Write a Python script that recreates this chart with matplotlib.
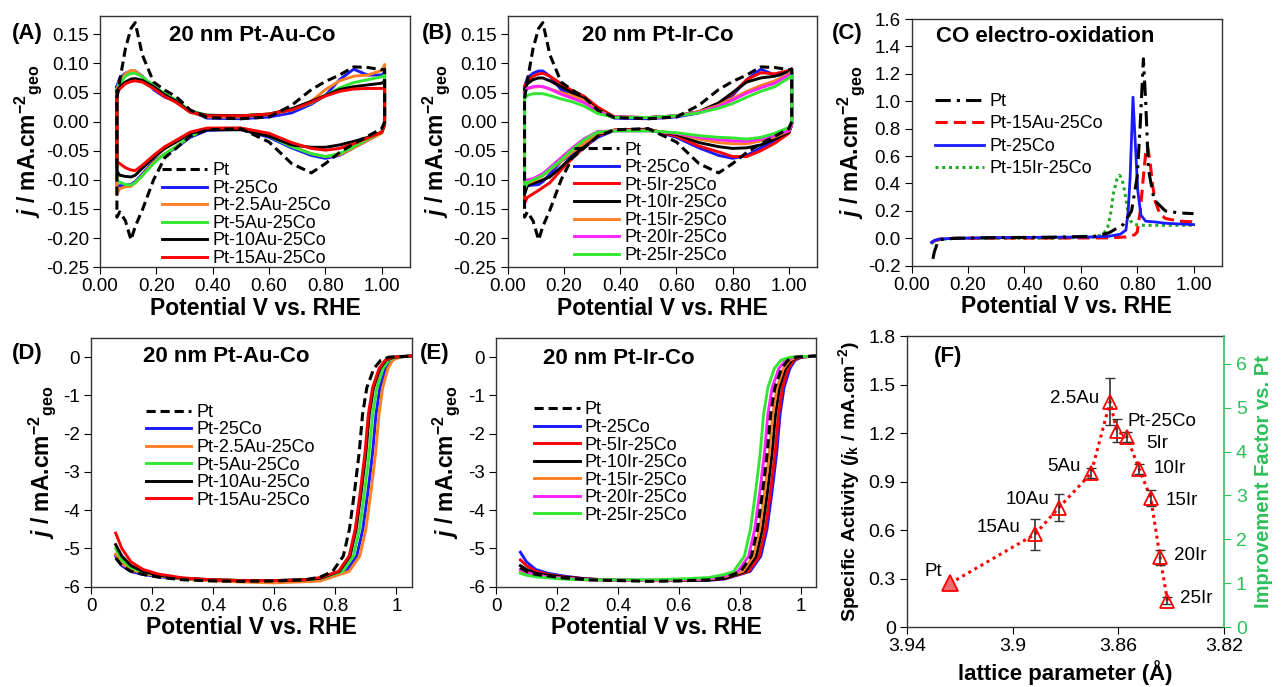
import matplotlib
matplotlib.use('Agg')
import matplotlib.pyplot as plt
from matplotlib.ticker import FormatStrFormatter, FuncFormatter, MultipleLocator

plt.rcParams['font.family'] = ['Liberation Sans', 'DejaVu Sans']
plt.rcParams['mathtext.fontset'] = 'custom'
plt.rcParams['mathtext.rm'] = 'Liberation Sans:bold'
plt.rcParams['mathtext.it'] = 'Liberation Sans:bold:italic'
plt.rcParams['mathtext.bf'] = 'Liberation Sans:bold'
plt.rcParams['axes.unicode_minus'] = False

# ---------------- CV data (A, B): potentials shared by all sweeps ----------------
cv_E = [0.06, 0.07, 0.09, 0.11, 0.125, 0.15, 0.19, 0.23, 0.27, 0.32, 0.38,
        0.5, 0.6, 0.68, 0.75, 0.8, 0.85, 0.9, 0.95, 1.0, 1.01]

cv_pt_up = [0.04, 0.07, 0.125, 0.16, 0.17, 0.115, 0.068, 0.054, 0.043, 0.02, 0.007,
            0.005, 0.008, 0.028, 0.055, 0.069, 0.08, 0.094, 0.093, 0.089, 0.09]
cv_pt_dn = [-0.164, -0.155, -0.17, -0.203, -0.18, -0.152, -0.1, -0.062, -0.046, -0.025, -0.014,
            -0.012, -0.035, -0.072, -0.088, -0.072, -0.053, -0.038, -0.025, -0.012, 0.0]
cv_co_up = [0.06, 0.075, 0.083, 0.087, 0.087, 0.078, 0.055, 0.042, 0.035, 0.018, 0.006,
            0.005, 0.008, 0.015, 0.03, 0.045, 0.072, 0.09, 0.08, 0.08, 0.085]
cv_co_dn = [-0.11, -0.11, -0.109, -0.108, -0.103, -0.09, -0.068, -0.056, -0.045, -0.027, -0.015,
            -0.013, -0.027, -0.045, -0.058, -0.063, -0.058, -0.045, -0.032, -0.018, -0.005]

# Pt-Au-Co series
cv_au25_up = [0.055, 0.07, 0.082, 0.088, 0.087, 0.077, 0.057, 0.045, 0.036, 0.016, 0.008,
              0.008, 0.012, 0.02, 0.035, 0.055, 0.07, 0.078, 0.08, 0.088, 0.098]
cv_au25_dn = [-0.125, -0.115, -0.112, -0.111, -0.105, -0.092, -0.07, -0.055, -0.043, -0.025, -0.012,
              -0.011, -0.022, -0.042, -0.055, -0.06, -0.057, -0.045, -0.032, -0.02, -0.005]
cv_au5_up = [0.05, 0.065, 0.078, 0.083, 0.083, 0.077, 0.062, 0.048, 0.037, 0.019, 0.011,
             0.01, 0.013, 0.02, 0.032, 0.045, 0.058, 0.067, 0.072, 0.077, 0.08]
cv_au5_dn = [-0.1, -0.104, -0.108, -0.109, -0.105, -0.093, -0.072, -0.055, -0.043, -0.025, -0.013,
             -0.012, -0.025, -0.043, -0.055, -0.06, -0.055, -0.043, -0.03, -0.018, -0.005]
cv_au10_up = [0.052, 0.06, 0.068, 0.073, 0.074, 0.071, 0.06, 0.046, 0.035, 0.017, 0.011,
              0.01, 0.013, 0.022, 0.035, 0.045, 0.055, 0.06, 0.063, 0.066, 0.07]
cv_au10_dn = [-0.085, -0.092, -0.094, -0.095, -0.092, -0.08, -0.062, -0.046, -0.035, -0.02, -0.014,
              -0.014, -0.025, -0.04, -0.044, -0.044, -0.04, -0.034, -0.027, -0.018, -0.005]
cv_au15_up = [0.048, 0.056, 0.065, 0.069, 0.07, 0.068, 0.057, 0.043, 0.033, 0.016, 0.01,
              0.01, 0.013, 0.02, 0.033, 0.044, 0.052, 0.056, 0.057, 0.057, 0.058]
cv_au15_dn = [-0.068, -0.072, -0.079, -0.083, -0.084, -0.075, -0.058, -0.043, -0.032, -0.018, -0.011,
              -0.011, -0.02, -0.036, -0.046, -0.049, -0.046, -0.038, -0.028, -0.018, -0.005]

# Pt-Ir-Co series
cv_ir5_up = [0.06, 0.07, 0.078, 0.082, 0.083, 0.078, 0.065, 0.053, 0.044, 0.025, 0.008,
             0.007, 0.01, 0.017, 0.032, 0.048, 0.072, 0.084, 0.082, 0.088, 0.091]
cv_ir5_dn = [-0.14, -0.13, -0.124, -0.118, -0.113, -0.105, -0.083, -0.063, -0.045, -0.024, -0.014,
             -0.013, -0.025, -0.042, -0.052, -0.06, -0.06, -0.05, -0.037, -0.02, -0.005]
cv_ir10_up = [0.055, 0.065, 0.072, 0.075, 0.075, 0.07, 0.06, 0.049, 0.04, 0.02, 0.008,
              0.007, 0.01, 0.017, 0.032, 0.05, 0.068, 0.075, 0.078, 0.086, 0.09]
cv_ir10_dn = [-0.125, -0.11, -0.106, -0.103, -0.1, -0.095, -0.078, -0.06, -0.043, -0.022, -0.015,
              -0.014, -0.022, -0.036, -0.043, -0.046, -0.045, -0.04, -0.03, -0.018, -0.005]
cv_ir15_up = [0.05, 0.057, 0.059, 0.06, 0.06, 0.056, 0.05, 0.044, 0.037, 0.019, 0.008,
              0.007, 0.01, 0.017, 0.028, 0.04, 0.052, 0.062, 0.07, 0.082, 0.088]
cv_ir15_dn = [-0.11, -0.106, -0.102, -0.097, -0.093, -0.083, -0.068, -0.052, -0.038, -0.02, -0.015,
              -0.015, -0.02, -0.03, -0.036, -0.038, -0.038, -0.033, -0.026, -0.016, -0.005]
cv_ir20_up = [0.05, 0.057, 0.06, 0.061, 0.06, 0.056, 0.047, 0.04, 0.033, 0.017, 0.008,
              0.007, 0.01, 0.016, 0.026, 0.037, 0.049, 0.058, 0.066, 0.08, 0.084]
cv_ir20_dn = [-0.1, -0.1, -0.098, -0.093, -0.089, -0.079, -0.062, -0.045, -0.03, -0.017, -0.016,
              -0.016, -0.02, -0.027, -0.031, -0.033, -0.034, -0.03, -0.024, -0.015, -0.005]
cv_ir25_up = [0.04, 0.045, 0.048, 0.048, 0.048, 0.045, 0.039, 0.034, 0.027, 0.014, 0.007,
              0.007, 0.01, 0.015, 0.023, 0.031, 0.042, 0.052, 0.06, 0.075, 0.08]
cv_ir25_dn = [-0.115, -0.105, -0.1, -0.096, -0.092, -0.082, -0.066, -0.048, -0.032, -0.018, -0.016,
              -0.016, -0.019, -0.024, -0.027, -0.028, -0.03, -0.027, -0.02, -0.01, -0.002]

# ---------------- CO stripping (C) ----------------
co_pt_E = [0.075, 0.08, 0.09, 0.1, 0.15, 0.3, 0.5, 0.65, 0.7, 0.75, 0.78, 0.8, 0.81,
           0.822, 0.83, 0.84, 0.86, 0.9, 0.95, 1.0]
co_pt_j = [-0.15, -0.1, -0.04, -0.01, 0.0, 0.005, 0.008, 0.015, 0.04, 0.1, 0.2, 0.45, 0.8,
           1.31, 1.0, 0.5, 0.28, 0.2, 0.185, 0.18]
co_au_E = [0.07, 0.08, 0.1, 0.15, 0.3, 0.5, 0.7, 0.76, 0.79, 0.8, 0.811, 0.822, 0.83,
           0.837, 0.846, 0.855, 0.864, 0.88, 0.9, 0.95, 1.0]
co_au_j = [-0.03, -0.02, -0.005, 0.0, 0.002, 0.002, 0.003, 0.01, 0.025, 0.045, 0.2, 0.45, 0.62,
           0.67, 0.55, 0.38, 0.27, 0.18, 0.145, 0.125, 0.12]
co_co_E = [0.07, 0.08, 0.1, 0.15, 0.3, 0.5, 0.65, 0.7, 0.74, 0.76, 0.768, 0.775, 0.785,
           0.793, 0.802, 0.813, 0.83, 0.86, 0.9, 1.0]
co_co_j = [-0.03, -0.015, -0.005, 0.0, 0.005, 0.008, 0.01, 0.015, 0.03, 0.06, 0.2, 0.45, 1.03,
           0.7, 0.35, 0.17, 0.125, 0.12, 0.11, 0.1]
co_ir_E = [0.07, 0.08, 0.1, 0.15, 0.3, 0.5, 0.65, 0.68, 0.695, 0.705, 0.716, 0.728, 0.737,
           0.745, 0.755, 0.765, 0.775, 0.79, 0.82, 0.9, 1.0]
co_ir_j = [-0.04, -0.02, -0.008, 0.0, 0.0, 0.0, 0.01, 0.03, 0.08, 0.17, 0.33, 0.43, 0.46,
           0.44, 0.35, 0.22, 0.13, 0.1, 0.095, 0.095, 0.095]

# ---------------- ORR polarisation (D, E) ----------------
orr_E_low = [0.08, 0.1, 0.13, 0.17, 0.22, 0.3, 0.4, 0.5, 0.6, 0.7, 0.75]
orr_j_wave = [-5.6, -5.2, -4.5, -3.5, -2.5, -1.5, -0.8, -0.3, -0.08, 0.0, 0.03]

# D: Pt-Au-Co
d_pt_low = [-5.25, -5.45, -5.6, -5.68, -5.75, -5.82, -5.85, -5.86, -5.85, -5.82, -5.75]
d_pt_wave = [0.791, 0.826, 0.846, 0.863, 0.878, 0.889, 0.903, 0.926, 0.949, 0.975, 1.05]
d_co_low = [-5.2, -5.45, -5.6, -5.68, -5.74, -5.8, -5.83, -5.84, -5.84, -5.82, -5.8]
d_co_wave = [0.835, 0.87, 0.89, 0.907, 0.922, 0.933, 0.946, 0.965, 0.982, 1.005, 1.05]
d_au25_low = [-5.15, -5.4, -5.55, -5.65, -5.72, -5.8, -5.85, -5.88, -5.9, -5.87, -5.85]
d_au25_wave = [0.845, 0.88, 0.9, 0.917, 0.932, 0.943, 0.955, 0.972, 0.988, 1.01, 1.05]
d_au5_low = [-5.0, -5.3, -5.5, -5.62, -5.7, -5.78, -5.82, -5.84, -5.84, -5.82, -5.78]
d_au5_wave = [0.824, 0.859, 0.879, 0.896, 0.911, 0.922, 0.936, 0.956, 0.975, 1.0, 1.05]
d_au10_low = [-4.9, -5.2, -5.45, -5.6, -5.7, -5.78, -5.82, -5.84, -5.84, -5.82, -5.78]
d_au10_wave = [0.813, 0.848, 0.868, 0.885, 0.9, 0.911, 0.925, 0.946, 0.966, 0.992, 1.05]
d_au15_low = [-4.6, -5.0, -5.35, -5.55, -5.67, -5.77, -5.82, -5.84, -5.84, -5.82, -5.76]
d_au15_wave = [0.81, 0.845, 0.865, 0.882, 0.897, 0.908, 0.922, 0.943, 0.963, 0.99, 1.05]

# E: Pt-Ir-Co
e_pt_low = [-5.5, -5.6, -5.68, -5.72, -5.77, -5.82, -5.84, -5.86, -5.85, -5.82, -5.77]
e_pt_wave = [0.803, 0.838, 0.858, 0.875, 0.89, 0.901, 0.915, 0.937, 0.958, 0.984, 1.05]
e_co_low = [-5.1, -5.35, -5.55, -5.65, -5.72, -5.8, -5.83, -5.84, -5.84, -5.83, -5.8]
e_co_wave = [0.834, 0.869, 0.889, 0.906, 0.921, 0.932, 0.945, 0.964, 0.981, 1.003, 1.05]
e_ir5_low = [-5.3, -5.45, -5.6, -5.68, -5.74, -5.8, -5.83, -5.84, -5.84, -5.82, -5.79]
e_ir5_wave = [0.829, 0.864, 0.884, 0.901, 0.916, 0.927, 0.94, 0.959, 0.977, 1.0, 1.05]
e_ir10_low = [-5.45, -5.55, -5.65, -5.7, -5.75, -5.8, -5.83, -5.84, -5.84, -5.82, -5.78]
e_ir10_wave = [0.819, 0.854, 0.874, 0.891, 0.906, 0.917, 0.93, 0.95, 0.97, 0.993, 1.05]
e_ir15_low = [-5.6, -5.65, -5.7, -5.74, -5.78, -5.82, -5.83, -5.84, -5.83, -5.8, -5.74]
e_ir15_wave = [0.81, 0.845, 0.865, 0.882, 0.897, 0.908, 0.922, 0.943, 0.963, 0.988, 1.05]
e_ir20_low = [-5.55, -5.62, -5.7, -5.74, -5.78, -5.82, -5.83, -5.83, -5.82, -5.79, -5.72]
e_ir20_wave = [0.794, 0.829, 0.849, 0.866, 0.881, 0.892, 0.906, 0.928, 0.95, 0.978, 1.05]
e_ir25_low = [-5.65, -5.7, -5.74, -5.77, -5.8, -5.82, -5.82, -5.82, -5.8, -5.76, -5.68]
e_ir25_wave = [0.78, 0.815, 0.835, 0.852, 0.867, 0.878, 0.892, 0.913, 0.935, 0.965, 1.05]

# ---------------- F: specific activity vs lattice parameter ----------------
f_names = ['Pt', '15Au', '10Au', '5Au', '2.5Au', 'Pt-25Co', '5Ir', '10Ir', '15Ir', '20Ir', '25Ir']
f_lattice = [3.9236, 3.8915, 3.8825, 3.8703, 3.8631, 3.8606, 3.8568, 3.8521, 3.8477, 3.8442, 3.8414]
f_sa = [0.272, 0.576, 0.74, 0.953, 1.397, 1.217, 1.18, 0.98, 0.80, 0.433, 0.165]
f_err = [0.0, 0.095, 0.083, 0.03, 0.145, 0.07, 0.03, 0.03, 0.05, 0.047, 0.02]
f_label_dx = [-17, -36, -31, -27, -36, 45, 30, 31, 31, 30, 29]
f_label_dy = [12, 7, 8, 7, 3, 9, -7, 0, -2, 2, 2]

BLUE = '#1a1aff'
ORANGE = '#ff7f27'
GREEN = '#33e633'
RED = '#ff0000'
MAGENTA = '#ff22ff'
IFGREEN = '#2dbf5a'

TICK = 13.5
LEG = 13
LAB = 16.5
TTL = 16

fig = plt.figure(figsize=(12.82, 6.87), dpi=100)

def style(ax):
    ax.tick_params(direction='out', length=5, labelsize=TICK, top=False, right=False, pad=3)
    for s in ax.spines.values():
        s.set_linewidth(1.0)
        s.set_color('#333333')

def plot_cv(ax, up, dn, **kw):
    xs = cv_E + cv_E[::-1] + [cv_E[0]]
    ys = up + dn[::-1] + [up[0]]
    return ax.plot(xs, ys, **kw)[0]

ylab = r'$j$ / mA.cm$^{-2}{}_{\rm geo}$'
xlab = 'Potential V vs. RHE'
leg_kw = dict(frameon=False, fontsize=LEG, handlelength=2.5, handletextpad=0.3,
              labelspacing=0.03, borderpad=0, borderaxespad=0, loc='upper left')
LW = 2.1
DASH = (0, (3, 1.6))

# ---------- (A) ----------
axA = fig.add_axes([0.078, 0.611, 0.2418, 0.3654])
hA = []
hA.append(plot_cv(axA, cv_co_up, cv_co_dn, color=BLUE, lw=LW, label='Pt-25Co'))
hA.append(plot_cv(axA, cv_au25_up, cv_au25_dn, color=ORANGE, lw=LW, label='Pt-2.5Au-25Co'))
hA.append(plot_cv(axA, cv_au5_up, cv_au5_dn, color=GREEN, lw=LW, label='Pt-5Au-25Co'))
hA.append(plot_cv(axA, cv_au10_up, cv_au10_dn, color='black', lw=LW, label='Pt-10Au-25Co'))
hA.append(plot_cv(axA, cv_au15_up, cv_au15_dn, color=RED, lw=LW, label='Pt-15Au-25Co'))
hpA = plot_cv(axA, cv_pt_up, cv_pt_dn, color='black', lw=2.2, ls=DASH, label='Pt')
axA.set_xlim(0, 1.1)
axA.set_ylim(-0.25, 0.181)
axA.set_xticks([0, 0.2, 0.4, 0.6, 0.8, 1.0])
axA.set_yticks([-0.25, -0.2, -0.15, -0.1, -0.05, 0, 0.05, 0.1, 0.15])
axA.xaxis.set_major_formatter(FormatStrFormatter('%.2f'))
axA.yaxis.set_major_formatter(FormatStrFormatter('%.2f'))
style(axA)
axA.set_xlabel(xlab, fontsize=LAB, fontweight='bold', labelpad=1)
axA.set_ylabel(ylab, fontsize=LAB, fontweight='bold', labelpad=1)
axA.text(0.49, 0.924, '20 nm Pt-Au-Co', transform=axA.transAxes, ha='center', va='center',
         fontsize=TTL, fontweight='bold')
axA.legend([hpA] + hA, [h.get_label() for h in [hpA] + hA], bbox_to_anchor=(0.2, 0.418), **leg_kw)

# ---------- (B) ----------
axB = fig.add_axes([0.396, 0.611, 0.2413, 0.3654])
hB = []
hB.append(plot_cv(axB, cv_co_up, cv_co_dn, color=BLUE, lw=LW, label='Pt-25Co'))
hB.append(plot_cv(axB, cv_ir5_up, cv_ir5_dn, color=RED, lw=LW, label='Pt-5Ir-25Co'))
hB.append(plot_cv(axB, cv_ir10_up, cv_ir10_dn, color='black', lw=LW, label='Pt-10Ir-25Co'))
hB.append(plot_cv(axB, cv_ir15_up, cv_ir15_dn, color=ORANGE, lw=LW, label='Pt-15Ir-25Co'))
hB.append(plot_cv(axB, cv_ir20_up, cv_ir20_dn, color=MAGENTA, lw=LW, label='Pt-20Ir-25Co'))
hB.append(plot_cv(axB, cv_ir25_up, cv_ir25_dn, color=GREEN, lw=LW, label='Pt-25Ir-25Co'))
hpB = plot_cv(axB, cv_pt_up, cv_pt_dn, color='black', lw=2.2, ls=DASH, label='Pt')
axB.set_xlim(0, 1.1)
axB.set_ylim(-0.25, 0.181)
axB.set_xticks([0, 0.2, 0.4, 0.6, 0.8, 1.0])
axB.set_yticks([-0.25, -0.2, -0.15, -0.1, -0.05, 0, 0.05, 0.1, 0.15])
axB.xaxis.set_major_formatter(FormatStrFormatter('%.2f'))
axB.yaxis.set_major_formatter(FormatStrFormatter('%.2f'))
style(axB)
axB.set_xlabel(xlab, fontsize=LAB, fontweight='bold', labelpad=1)
axB.set_ylabel(ylab, fontsize=LAB, fontweight='bold', labelpad=1)
axB.text(0.486, 0.924, '20 nm Pt-Ir-Co', transform=axB.transAxes, ha='center', va='center',
         fontsize=TTL, fontweight='bold')
axB.legend([hpB] + hB, [h.get_label() for h in [hpB] + hB], bbox_to_anchor=(0.215, 0.5), **leg_kw)

# ---------- (C) ----------
axC = fig.add_axes([0.7112, 0.6132, 0.2418, 0.3591])
lC_ir = axC.plot(co_ir_E, co_ir_j, color='#22aa22', lw=2.2, ls=(0, (1, 1.2)), label='Pt-15Ir-25Co')[0]
lC_au = axC.plot(co_au_E, co_au_j, color=RED, lw=2.2, ls=(0, (4, 2)), label='Pt-15Au-25Co')[0]
lC_co = axC.plot(co_co_E, co_co_j, color=BLUE, lw=2, label='Pt-25Co')[0]
lC_pt = axC.plot(co_pt_E, co_pt_j, color='black', lw=2.2, ls=(0, (5, 2, 1, 2)), label='Pt')[0]
axC.set_xlim(0, 1.1)
axC.set_ylim(-0.2, 1.6)
axC.set_xticks([0, 0.2, 0.4, 0.6, 0.8, 1.0])
axC.yaxis.set_major_locator(MultipleLocator(0.2))
axC.xaxis.set_major_formatter(FormatStrFormatter('%.2f'))
axC.yaxis.set_major_formatter(FormatStrFormatter('%.1f'))
style(axC)
axC.set_xlabel(xlab, fontsize=LAB, fontweight='bold', labelpad=1)
axC.set_ylabel(ylab, fontsize=LAB, fontweight='bold', labelpad=1)
axC.text(0.43, 0.928, 'CO electro-oxidation', transform=axC.transAxes, ha='center', va='center',
         fontsize=TTL, fontweight='bold')
hC = [lC_pt, lC_au, lC_co, lC_ir]
axC.legend(hC, [h.get_label() for h in hC], bbox_to_anchor=(0.075, 0.7), frameon=False,
           fontsize=LEG, handlelength=2.7, handletextpad=0.3, labelspacing=0.3, borderpad=0,
           borderaxespad=0, loc='upper left')

# ---------- (D) ----------
intfmt = FuncFormatter(lambda v, p: '%g' % v)
axD = fig.add_axes([0.0712, 0.146, 0.2499, 0.362])
d_sets = [(d_co_low, d_co_wave, BLUE, 'Pt-25Co'),
          (d_au25_low, d_au25_wave, ORANGE, 'Pt-2.5Au-25Co'),
          (d_au5_low, d_au5_wave, GREEN, 'Pt-5Au-25Co'),
          (d_au10_low, d_au10_wave, 'black', 'Pt-10Au-25Co'),
          (d_au15_low, d_au15_wave, RED, 'Pt-15Au-25Co')]
hD = []
for jl, ew, c, lab in d_sets:
    hD.append(axD.plot(orr_E_low + ew, jl + orr_j_wave, color=c, lw=LW, label=lab)[0])
hpD = axD.plot(orr_E_low + d_pt_wave, d_pt_low + orr_j_wave, color='black', lw=2.2,
               ls=DASH, label='Pt')[0]
axD.set_xlim(0, 1.05)
axD.set_ylim(-6, 0.5)
axD.set_xticks([0, 0.2, 0.4, 0.6, 0.8, 1.0])
axD.set_yticks([-6, -5, -4, -3, -2, -1, 0])
axD.xaxis.set_major_formatter(intfmt)
axD.yaxis.set_major_formatter(intfmt)
style(axD)
axD.set_xlabel(xlab, fontsize=LAB, fontweight='bold', labelpad=1)
axD.set_ylabel(ylab, fontsize=LAB, fontweight='bold', labelpad=4)
axD.text(0.42, 0.925, '20 nm Pt-Au-Co', transform=axD.transAxes, ha='center', va='center',
         fontsize=TTL, fontweight='bold')
axD.legend([hpD] + hD, [h.get_label() for h in [hpD] + hD], bbox_to_anchor=(0.17, 0.735), **leg_kw)

# ---------- (E) ----------
axE = fig.add_axes([0.3869, 0.146, 0.2496, 0.362])
e_sets = [(e_co_low, e_co_wave, BLUE, 'Pt-25Co'),
          (e_ir5_low, e_ir5_wave, RED, 'Pt-5Ir-25Co'),
          (e_ir10_low, e_ir10_wave, 'black', 'Pt-10Ir-25Co'),
          (e_ir15_low, e_ir15_wave, ORANGE, 'Pt-15Ir-25Co'),
          (e_ir20_low, e_ir20_wave, MAGENTA, 'Pt-20Ir-25Co'),
          (e_ir25_low, e_ir25_wave, GREEN, 'Pt-25Ir-25Co')]
hE = []
for jl, ew, c, lab in e_sets:
    hE.append(axE.plot(orr_E_low + ew, jl + orr_j_wave, color=c, lw=LW, label=lab)[0])
hpE = axE.plot(orr_E_low + e_pt_wave, e_pt_low + orr_j_wave, color='black', lw=2.2,
               ls=DASH, label='Pt')[0]
axE.set_xlim(0, 1.05)
axE.set_ylim(-6, 0.5)
axE.set_xticks([0, 0.2, 0.4, 0.6, 0.8, 1.0])
axE.set_yticks([-6, -5, -4, -3, -2, -1, 0])
axE.xaxis.set_major_formatter(intfmt)
axE.yaxis.set_major_formatter(intfmt)
style(axE)
axE.set_xlabel(xlab, fontsize=LAB, fontweight='bold', labelpad=1)
axE.set_ylabel(ylab, fontsize=LAB, fontweight='bold', labelpad=4)
axE.text(0.385, 0.916, '20 nm Pt-Ir-Co', transform=axE.transAxes, ha='center', va='center',
         fontsize=TTL, fontweight='bold')
axE.legend([hpE] + hE, [h.get_label() for h in [hpE] + hE], bbox_to_anchor=(0.12, 0.745), **leg_kw)

# ---------- (F) ----------
axF = fig.add_axes([0.7073, 0.0869, 0.2475, 0.4233])
axF.plot(f_lattice, f_sa, color=RED, lw=2.2, ls=(0, (1, 1.3)), zorder=2)
axF.errorbar(f_lattice[1:], f_sa[1:], yerr=f_err[1:], fmt='none', ecolor='#333333',
             elinewidth=1.2, capsize=3.5, zorder=3)
axF.plot(f_lattice[1:], f_sa[1:], ls='none', marker='^', ms=10, mfc='none', mec=RED,
         mew=1.3, zorder=4)
axF.plot(f_lattice[:1], f_sa[:1], ls='none', marker='^', ms=11, mfc='#f26b6b', mec=RED,
         mew=1.3, zorder=4)
for name, x, y, dx, dy in zip(f_names, f_lattice, f_sa, f_label_dx, f_label_dy):
    axF.annotate(name, (x, y), xytext=(dx, dy), textcoords='offset pixels',
                 ha='center', va='center', fontsize=13.5)
axF.set_xlim(3.94, 3.82)
axF.set_ylim(0, 1.8)
axF.set_xticks([3.94, 3.9, 3.86, 3.82])
axF.set_yticks([0, 0.3, 0.6, 0.9, 1.2, 1.5, 1.8])
axF.xaxis.set_major_formatter(intfmt)
axF.yaxis.set_major_formatter(intfmt)
style(axF)
axF.tick_params(labelsize=14)
axF.spines['right'].set_visible(False)
axF.set_xlabel('lattice parameter (Å)', fontsize=16, fontweight='bold', labelpad=3)
axF.set_ylabel(r'Specific Activity ($j_{\rm k}$ / mA.cm$^{-2}$)', fontsize=14,
               fontweight='bold', labelpad=5)
axF.text(0.13, 0.93, '(F)', transform=axF.transAxes, ha='center', va='center',
         fontsize=16, fontweight='bold')

axF2 = axF.twinx()
axF2.set_ylim(0, 1.8 / f_sa[0])
axF2.set_yticks([0, 1, 2, 3, 4, 5, 6])
axF2.tick_params(direction='out', length=5, labelsize=14, colors=IFGREEN)
axF2.spines['right'].set_color(IFGREEN)
axF2.spines['right'].set_linewidth(1.2)
for s in ['left', 'top', 'bottom']:
    axF2.spines[s].set_visible(False)
axF2.set_ylabel('Improvement Factor vs. Pt', fontsize=14.5, fontweight='bold', color=IFGREEN,
                labelpad=5)

# panel letters
for lab, px, py in [('(A)', 27, 34), ('(B)', 437, 33), ('(C)', 847, 33),
                    ('(D)', 27, 353), ('(E)', 435, 353)]:
    fig.text(px / 1282, 1 - py / 687, lab, ha='center', va='center', fontsize=16,
             fontweight='bold')

fig.savefig('out.png', dpi=100)
